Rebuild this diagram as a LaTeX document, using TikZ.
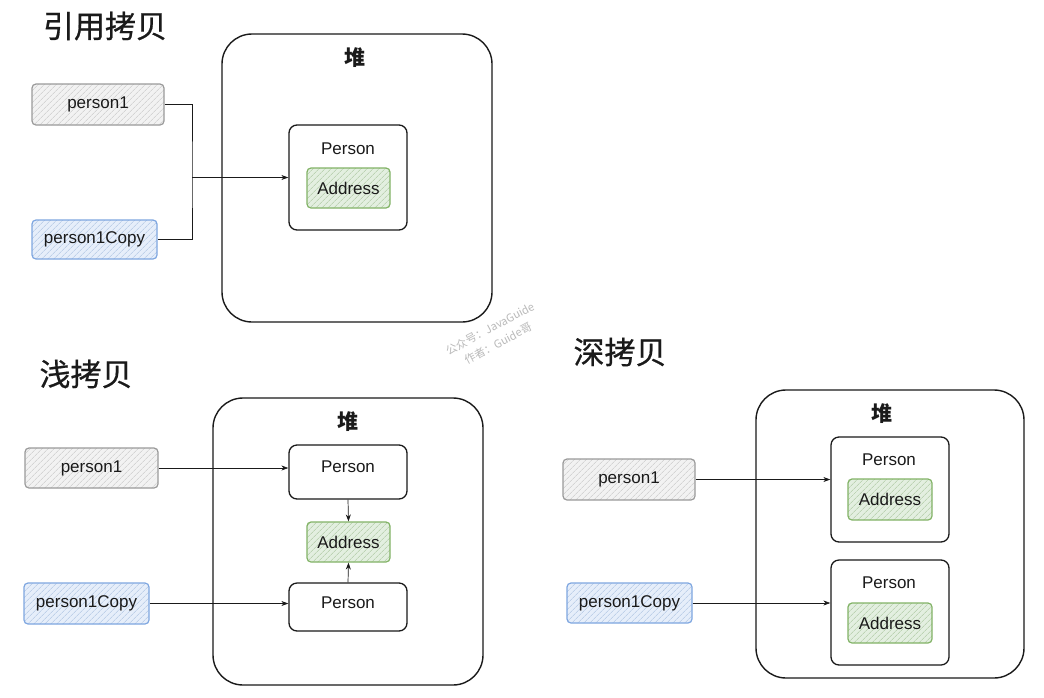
\documentclass[tikz,border=0pt]{standalone}
\usepackage{fontspec}
\setmainfont{Liberation Sans}
\newfontfamily\cjk{Noto Sans CJK SC}
\newfontfamily\cjkt[FakeBold=0.6]{Noto Sans CJK SC}
\usetikzlibrary{patterns.meta,arrows.meta}
\definecolor{grayfill}{HTML}{F2F2F2}
\definecolor{grayline}{HTML}{9A9A9A}
\definecolor{grayhatch}{HTML}{C4C4C4}
\definecolor{bluefill}{HTML}{E6EEFA}
\definecolor{blueline}{HTML}{7EA6E0}
\definecolor{bluehatch}{HTML}{A9C0E0}
\definecolor{greenfill}{HTML}{E3EFE0}
\definecolor{greenline}{HTML}{82B366}
\definecolor{greenhatch}{HTML}{A8C49C}
\definecolor{ink}{HTML}{1A1A1A}
\tikzset{
  txt/.style={font=\fontsize{17}{20}\selectfont, text=ink},
  varbox/.style={txt, draw=#1line, line width=1.2pt, rounded corners=4,
    preaction={fill=#1fill},
    pattern={Lines[angle=45,distance=4pt,line width=0.5pt]}, pattern color=#1hatch,
    inner sep=0pt},
  heapbox/.style={draw=ink, line width=1.4pt, rounded corners=30, inner sep=0pt},
  objbox/.style={draw=ink, line width=1.3pt, rounded corners=8, inner sep=0pt, fill=white},
  title/.style={font=\cjkt\fontsize{31}{34}\selectfont, text=ink},
  heaplabel/.style={font=\cjk\bfseries\fontsize{21}{24}\selectfont, text=ink},
  link/.style={draw=ink, line width=0.7pt},
  arr/.style={link, -{Stealth[length=7pt,width=5pt]}},
  wm/.style={font=\cjk\fontsize{11}{17}\selectfont, text=gray!55, rotate=28, align=center}
}
\begin{document}
\begin{tikzpicture}[x=1pt,y=-1pt]
\useasboundingbox[fill=white] (0,0) rectangle (1044,697);

% ---------- 引用拷贝 ----------
\node[title] (t1) at (105,26) {引用拷贝};
\node[heapbox, minimum width=270, minimum height=288] (h1) at (357,178) {};
\node[heaplabel] (h1l) at (355,58) {堆};
\node[objbox, minimum width=118, minimum height=105] (r1p) at (348,177.5) {};
\node[txt] (r1pl) at (348,149) {Person};
\node[varbox=green, minimum width=83, minimum height=40] (r1a) at (348.5,188) {Address};
\node[varbox=gray, minimum width=132, minimum height=41] (r1v) at (98,104.5) {person1};
\node[varbox=blue, minimum width=125, minimum height=39] (r1c) at (94.5,239.5) {person1Copy};
\coordinate (j1) at (192,177.5);
\draw[link] (r1v.east) -| (j1) |- (r1c.east);
\draw[arr] (j1) -- (r1p.west);

% ---------- 浅拷贝 ----------
\node[title] (t2) at (86,374) {浅拷贝};
\node[heapbox, minimum width=270, minimum height=287] (h2) at (348,541.5) {};
\node[heaplabel] (h2l) at (348,422) {堆};
\node[objbox, minimum width=118, minimum height=54] (s2pa) at (348,472) {};
\node[txt] (s2pal) at (348,467) {Person};
\node[varbox=green, minimum width=83, minimum height=40] (s2a) at (348.5,542) {Address};
\node[objbox, minimum width=118, minimum height=48] (s2pb) at (348,607) {};
\node[txt] (s2pbl) at (348,603) {Person};
\node[varbox=gray, minimum width=133, minimum height=40] (s2v) at (91.5,468) {person1};
\node[varbox=blue, minimum width=125, minimum height=41] (s2c) at (86.5,603.5) {person1Copy};
\draw[arr] (s2v.east) -- (s2v.east -| s2pa.west);
\draw[arr] (s2c.east) -- (s2c.east -| s2pb.west);
\draw[arr] (s2pa.south) -- (s2a.north);
\draw[arr] (s2pb.north) -- (s2a.south);

% ---------- 深拷贝 ----------
\node[title] (t3) at (620,352) {深拷贝};
\node[heapbox, minimum width=268, minimum height=288] (h3) at (890,534) {};
\node[heaplabel] (h3l) at (882,414) {堆};
\node[objbox, minimum width=118, minimum height=105] (d3pa) at (890,489.5) {};
\node[txt] (d3pal) at (889,460) {Person};
\node[varbox=green, minimum width=84, minimum height=41] (d3aa) at (890,499.5) {Address};
\node[objbox, minimum width=118, minimum height=105] (d3pb) at (890,612.5) {};
\node[txt] (d3pbl) at (889,583) {Person};
\node[varbox=green, minimum width=84, minimum height=40] (d3ab) at (890,623) {Address};
\node[varbox=gray, minimum width=132, minimum height=41] (d3v) at (629,479.5) {person1};
\node[varbox=blue, minimum width=125, minimum height=40] (d3c) at (629.5,603) {person1Copy};
\draw[arr] (d3v.east) -- (d3v.east -| d3pa.west);
\draw[arr] (d3c.east) -- (d3c.east -| d3pb.west);

% ---------- watermark ----------
\node[wm] (wm) at (494,336) {公众号：JavaGuide\\作者：Guide哥};
\end{tikzpicture}
\end{document}
